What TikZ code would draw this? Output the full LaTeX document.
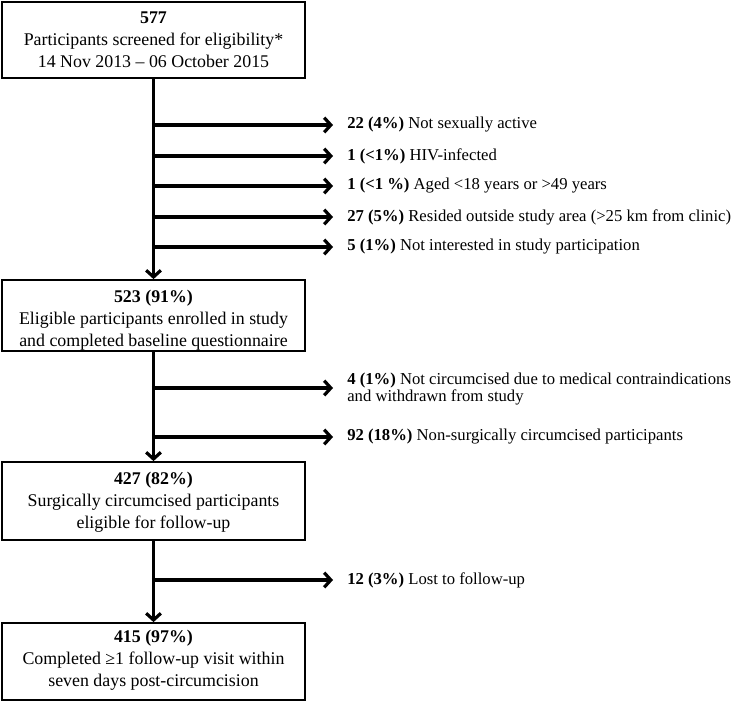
\documentclass[tikz,border=0pt]{standalone}
\usepackage{fontspec}
\setmainfont{Liberation Serif}
\usetikzlibrary{arrows.meta}
\tikzset{
  box/.style={draw, line width=1.3pt, minimum width=227pt, inner sep=0pt},
  boxtext/.style={align=center, inner sep=0pt, font=\fontsize{13.4}{16.5}\selectfont},
  lab/.style={anchor=west, inner sep=0pt, align=left, font=\fontsize{12.5}{12.9}\selectfont},
  arr/.style={line width=2.4pt, -{Straight Barb[length=5pt,width=11pt,line width=2.4pt]}},
}
\begin{document}
\begin{tikzpicture}[x=0.75pt,y=-0.75pt]
\useasboundingbox (0,0) rectangle (732,702);
\node[box, minimum height=57pt] (b1) at (153.5,40) {};
\node[box, minimum height=53.25pt] (b2) at (153.5,315.5) {};
\node[box, minimum height=58.5pt] (b3) at (153.5,501) {};
\node[box, minimum height=57.75pt] (b4) at (153.5,661.5) {};

\node[boxtext] (t1) at (153.5,40) {\textbf{577}\\Participants screened for eligibility*\\14 Nov 2013 – 06 October 2015};
\node[boxtext] (t2) at (153.5,320.5) {\textbf{523 (91\%)}\\Eligible participants enrolled in study\\and completed baseline questionnaire};
\node[boxtext] (t3) at (153.5,502.5) {\textbf{427 (82\%)}\\Surgically circumcised participants\\eligible for follow-up};
\node[boxtext] (t4) at (153.5,660) {\textbf{415 (97\%)}\\Completed ≥1 follow-up visit within\\seven days post-circumcision};

\draw[arr] (b1.south) -- (b2.north);
\draw[arr] (b2.south) -- (b3.north);
\draw[arr] (b3.south) -- (b4.north);

\coordinate (j1) at (153.5,125);
\coordinate (j2) at (153.5,156);
\coordinate (j3) at (153.5,186);
\coordinate (j4) at (153.5,217);
\coordinate (j5) at (153.5,247);
\coordinate (j6) at (153.5,388);
\coordinate (j7) at (153.5,437);
\coordinate (j8) at (153.5,580);

\node[lab] (l1) at (347,125) {\textbf{22 (4\%)} Not sexually active};
\node[lab] (l2) at (347,156) {\textbf{1 (<1\%)} HIV-infected};
\node[lab] (l3) at (347,186) {\textbf{1 (<1 \%)} Aged <18 years or >49 years};
\node[lab] (l4) at (347,217) {\textbf{27 (5\%)} Resided outside study area (>25 km from clinic)};
\node[lab] (l5) at (347,247) {\textbf{5 (1\%)} Not interested in study participation};
\node[lab] (l6) at (347,389) {\textbf{4 (1\%)} Not circumcised due to medical contraindications\\and withdrawn from study};
\node[lab] (l7) at (347,437) {\textbf{92 (18\%)} Non-surgically circumcised participants};
\node[lab] (l8) at (347,580) {\textbf{12 (3\%)} Lost to follow-up};

\foreach \i in {1,...,8} {\draw[arr] ([xshift=-1.2pt]j\i) -- ([xshift=-10.5pt]l\i.west |- j\i);}
\end{tikzpicture}
\end{document}
